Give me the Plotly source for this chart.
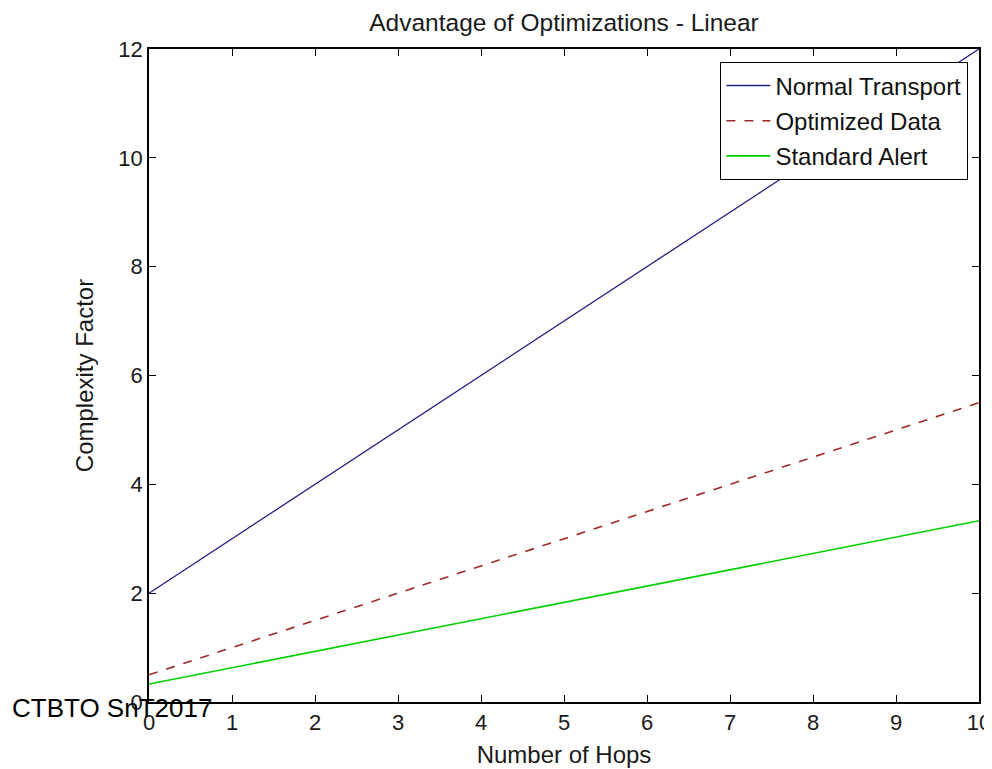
import plotly.graph_objects as go

hops = [0, 1, 2, 3, 4, 5, 6, 7, 8, 9, 10]
normal_transport = [2, 3, 4, 5, 6, 7, 8, 9, 10, 11, 12]
optimized_data = [0.5, 1.0, 1.5, 2.0, 2.5, 3.0, 3.5, 4.0, 4.5, 5.0, 5.5]
standard_alert = [0.33, 0.63, 0.93, 1.23, 1.53, 1.83, 2.13, 2.43, 2.73, 3.03, 3.33]

x_ticks = list(range(0, 11))
y_ticks = [0, 2, 4, 6, 8, 10, 12]

FONT = "Arial"
TXT = "#1a1a1a"

fig = go.Figure()
fig.add_trace(go.Scatter(x=hops, y=normal_transport, mode="lines", name="Normal Transport",
                         legendgroup="a", line=dict(color="#20207f", width=1.3)))
fig.add_trace(go.Scatter(x=hops, y=optimized_data, mode="lines", name="Optimized Data",
                         legendgroup="b", line=dict(color="#a02828", width=1.6, dash="dash")))
fig.add_trace(go.Scatter(x=hops, y=standard_alert, mode="lines", name="Standard Alert",
                         legendgroup="c", line=dict(color="#00d000", width=1.6)))

axis_common = dict(showline=True, linecolor="black", linewidth=1.6, mirror="allticks",
                   ticks="inside", ticklen=7, tickcolor="black", showgrid=False, zeroline=False,
                   automargin=False, tickfont=dict(family=FONT, size=22, color=TXT))

fig.update_layout(
    width=984, height=761,
    margin=dict(l=141, r=13, t=41, b=67),
    plot_bgcolor="white", paper_bgcolor="white",
    title=dict(text="Advantage of Optimizations - Linear", xref="paper", x=0.5, xanchor="center",
               yref="container", y=1 - 14 / 761, yanchor="middle",
               font=dict(family=FONT, size=24.5, color=TXT)),
    xaxis=dict(range=[0, 10], tickvals=x_ticks, title=dict(text="Number of Hops", standoff=12,
               font=dict(family=FONT, size=24, color=TXT)), **axis_common),
    yaxis=dict(range=[0, 12], tickvals=y_ticks, title=dict(text="Complexity Factor", standoff=18,
               font=dict(family=FONT, size=24, color=TXT)), **axis_common),
    legend=dict(x=(968 - 149) / 830, y=(702 - 62) / 653, xanchor="right", yanchor="top",
                bgcolor="white", bordercolor="black", borderwidth=1.4,
                font=dict(family=FONT, size=24, color="#111"),
                itemwidth=44, tracegroupgap=1),
    showlegend=True,
)

fig.add_annotation(text="CTBTO SnT2017", xref="paper", yref="paper",
                   x=(10 - 149) / 830, y=(702 - 708) / 653, xanchor="left", yanchor="middle",
                   showarrow=False, font=dict(family=FONT, size=26, color="black"))

fig.write_html("out.html")
